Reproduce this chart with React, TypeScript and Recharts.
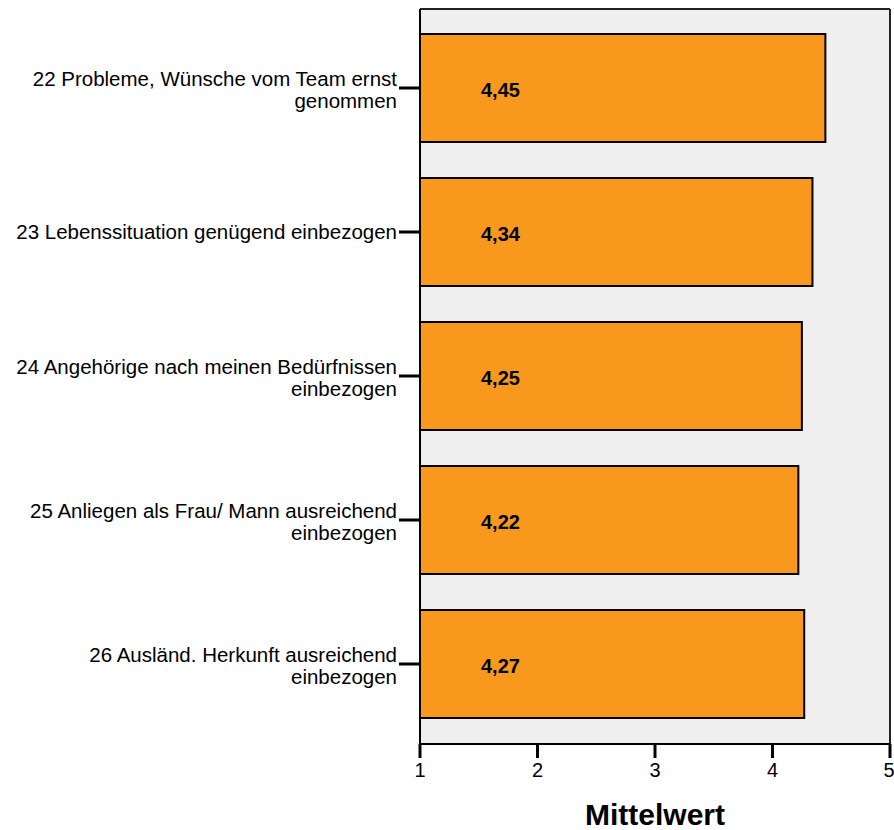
import { BarChart, Bar, XAxis, YAxis, CartesianGrid, LabelList } from "recharts";

const categories = [
  "22 Probleme, Wünsche vom Team ernst\ngenommen",
  "23 Lebenssituation genügend einbezogen",
  "24 Angehörige nach meinen Bedürfnissen\neinbezogen",
  "25 Anliegen als Frau/ Mann ausreichend\neinbezogen",
  "26 Ausländ. Herkunft ausreichend\neinbezogen",
];
const means = [4.45, 4.34, 4.25, 4.22, 4.27];
const xTicks = [1, 2, 3, 4, 5];

const data = categories.map((name, i) => ({ name, value: means[i] }));

const FONT = "'Liberation Sans', Arial, sans-serif";

function CategoryTick({ x, y, payload }: any) {
  const lines = String(payload.value).split("\n");
  return (
    <text x={x} y={y} textAnchor="end" fontFamily={FONT} fontSize={20.5} fill="#000">
      {lines.length === 1 ? (
        <tspan x={x} dy={7}>{lines[0]}</tspan>
      ) : (
        lines.map((l, i) => (
          <tspan key={i} x={x} dy={i === 0 ? -2 : 22}>
            {l}
          </tspan>
        ))
      )}
    </text>
  );
}

function ValueLabel({ x, y, height, value }: any) {
  return (
    <text
      x={x + 61}
      y={y + height / 2 + 9}
      fontFamily={FONT}
      fontSize={20}
      fontWeight="bold"
      fill="#000"
    >
      {String(value.toFixed(2)).replace(".", ",")}
    </text>
  );
}

export default function App() {
  return (
    <div style={{ position: "absolute", left: 0, top: 0, background: "#fff" }}>
      <BarChart
        width={894}
        height={830}
        data={data}
        layout="vertical"
        margin={{ top: 9, right: 4, bottom: 0, left: 0 }}
        barSize={108}
      >
        <CartesianGrid
          fill="#efefef"
          stroke="#222"
          strokeWidth={2}
          horizontalCoordinatesGenerator={({ offset }: any) => [offset.top]}
          verticalCoordinatesGenerator={({ offset }: any) => [offset.left + offset.width]}
        />
        <XAxis
          type="number"
          domain={[1, 5]}
          ticks={xTicks}
          allowDataOverflow
          height={86}
          tickSize={14}
          tickMargin={5}
          axisLine={{ stroke: "#000", strokeWidth: 2 }}
          tickLine={{ stroke: "#000", strokeWidth: 3 }}
          tick={{ fill: "#000", fontSize: 20, fontFamily: FONT }}
          label={{
            value: "Mittelwert",
            position: "insideBottom",
            offset: 5,
            fill: "#000",
            fontSize: 30,
            fontWeight: "bold",
            fontFamily: FONT,
          }}
        />
        <YAxis
          type="category"
          dataKey="name"
          width={420}
          padding={{ top: 7, bottom: 8 }}
          tickSize={21}
          axisLine={{ stroke: "#000", strokeWidth: 2 }}
          tickLine={{ stroke: "#000", strokeWidth: 3 }}
          tick={<CategoryTick />}
          interval={0}
        />
        <Bar dataKey="value" fill="#f8991e" stroke="#000" strokeWidth={2} isAnimationActive={false}>
          <LabelList dataKey="value" content={<ValueLabel />} />
        </Bar>
      </BarChart>
    </div>
  );
}
